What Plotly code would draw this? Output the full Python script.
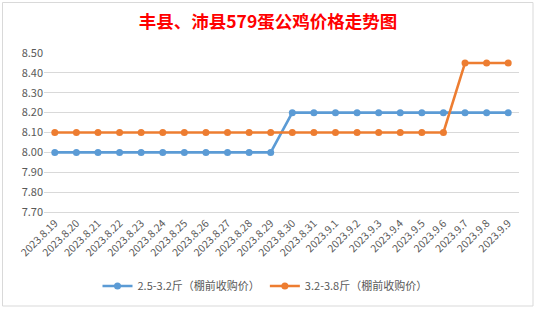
import plotly.graph_objects as go

dates = ["2023.8.19", "2023.8.20", "2023.8.21", "2023.8.22", "2023.8.23", "2023.8.24",
         "2023.8.25", "2023.8.26", "2023.8.27", "2023.8.28", "2023.8.29", "2023.8.30",
         "2023.8.31", "2023.9.1", "2023.9.2", "2023.9.3", "2023.9.4", "2023.9.5",
         "2023.9.6", "2023.9.7", "2023.9.8", "2023.9.9"]
series_small = [8.00, 8.00, 8.00, 8.00, 8.00, 8.00, 8.00, 8.00, 8.00, 8.00, 8.00,
                8.20, 8.20, 8.20, 8.20, 8.20, 8.20, 8.20, 8.20, 8.20, 8.20, 8.20]
series_large = [8.10, 8.10, 8.10, 8.10, 8.10, 8.10, 8.10, 8.10, 8.10, 8.10, 8.10,
                8.10, 8.10, 8.10, 8.10, 8.10, 8.10, 8.10, 8.10, 8.45, 8.45, 8.45]
name_small = "2.5-3.2斤（棚前收购价）"
name_large = "3.2-3.8斤（棚前收购价）"
title = "丰县、沛县579蛋公鸡价格走势图"
yticks = [7.70, 7.80, 7.90, 8.00, 8.10, 8.20, 8.30, 8.40, 8.50]

font_family = "Noto Sans CJK SC, Noto Sans, sans-serif"
grid = "#D9D9D9"

fig = go.Figure()
fig.add_trace(go.Scatter(x=dates, y=series_small, name=name_small, mode="lines+markers",
                         line=dict(color="#5B9BD5", width=2.6),
                         marker=dict(color="#5B9BD5", size=7)))
fig.add_trace(go.Scatter(x=dates, y=series_large, name=name_large, mode="lines+markers",
                         line=dict(color="#ED7D31", width=2.6),
                         marker=dict(color="#ED7D31", size=7)))

W, H = 536, 309
l, r, t, b = 44, 17, 53, 97
pw, ph = W - l - r, H - t - b

def px_x(x):
    return (x - l) / pw

def px_y(y):
    return (H - b - y) / ph

fig.add_shape(type="rect", xref="paper", yref="paper",
              x0=px_x(2.5), x1=px_x(533), y0=px_y(306), y1=px_y(2.5),
              line=dict(color=grid, width=1), fillcolor="rgba(0,0,0,0)", layer="below")

fig.update_layout(
    width=W, height=H,
    margin=dict(l=l, r=r, t=t, b=b, autoexpand=False),
    paper_bgcolor="white", plot_bgcolor="white",
    font=dict(family=font_family, color="#595959", size=11),
    title=dict(text="<b>" + title + "</b>", x=0.5, xanchor="center", xref="container",
               y=1 - 22 / H, yanchor="middle", yref="container",
               font=dict(family=font_family, size=17.5, color="#FF0000")),
    showlegend=True,
    legend=dict(orientation="h", x=px_x(265), xanchor="center", y=px_y(286), yanchor="middle",
                font=dict(size=11, color="#595959"), bgcolor="rgba(0,0,0,0)",
                itemwidth=30, tracegroupgap=0),
    xaxis=dict(type="category", tickangle=-45, showgrid=False, showline=True,
               linecolor=grid, linewidth=1, ticks="", tickfont=dict(size=10.5),
               automargin=False, range=[-0.5, len(dates) - 0.5]),
    yaxis=dict(range=[7.70, 8.50], tickvals=yticks, ticktext=[f"{v:.2f}" for v in yticks],
               showgrid=True, gridcolor=grid, gridwidth=1, zeroline=False, showline=False,
               ticks="", tickfont=dict(size=11), automargin=False),
)

fig.write_html("out.html", config={"displayModeBar": False},
               post_script="document.body.style.margin='0';document.body.style.overflow='hidden';")
